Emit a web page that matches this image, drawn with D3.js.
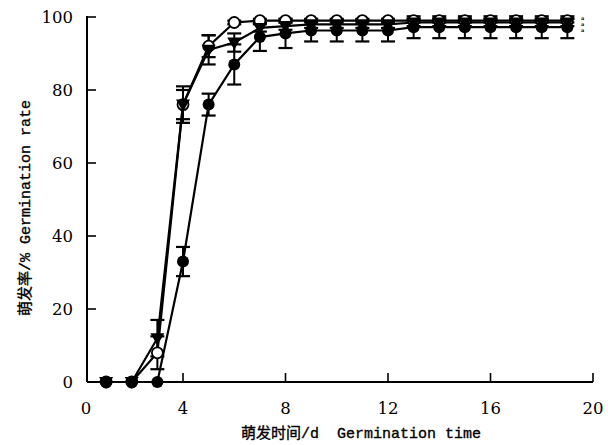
<!DOCTYPE html>
<html><head><meta charset="utf-8">
<script src="https://cdn.jsdelivr.net/npm/d3@7"></script>
<style>body{margin:0;background:#fff}svg{display:block}</style>
</head><body>
<svg id="c" width="608" height="445"></svg>
<script>
const days = [1,2,3,4,5,6,7,8,9,10,11,12,13,14,15,16,17,18,19];
const openVals = [0,0,8,76,92,98.5,99,99,99,99,99,99,99,99,99,99,99,99,99];
const openErr  = [0,0,4.5,4,3,0.5,0.5,0.5,0.5,0.5,0.5,0.5,0.5,0.5,0.5,0.5,0.5,0.5,0.5];
const triVals  = [0,0,12,76,91,93,97,97.5,98,98,98,98,98.5,98.5,98.5,98.5,98.5,98.5,98.5];
const triErr   = [0,0,5,5,4,2.5,1,1,1,1,1,1,1,1,1,1,1,1,1];
const fillVals = [0,0,0,33,76,87,94.5,95.5,96.3,96.3,96.3,96.3,97.2,97.2,97.2,97.2,97.2,97.2,97.2];
const fillErr  = [0,0,0,4,3,5.5,3.8,4,3,3,3,3,3,3,3,3,3,3,3];
const xTicks = [4,8,12,16,20];
const yTicks = [0,20,40,60,80,100];
const sigLabels = ["a","a","a"];

const svg = d3.select("#c");
const x = d3.scaleLinear().domain([0,20]).range([80.5,593]);
const y = d3.scaleLinear().domain([0,100]).range([382,17]);
const axisX0 = 87;

const serif = "'DejaVu Serif', serif";
const mono = "'Liberation Mono', 'Noto Sans CJK SC', monospace";

// axes
const g = svg.append("g");
g.append("line").attr("x1",axisX0).attr("x2",x(20)).attr("y1",y(0)).attr("y2",y(0)).attr("stroke","#000").attr("stroke-width",2);
g.append("line").attr("x1",axisX0).attr("x2",axisX0).attr("y1",y(0)).attr("y2",y(100)-1).attr("stroke","#000").attr("stroke-width",2);
xTicks.forEach(t=>{
  g.append("line").attr("x1",x(t)).attr("x2",x(t)).attr("y1",y(0)).attr("y2",y(0)-9).attr("stroke","#000").attr("stroke-width",1.6);
  g.append("text").attr("x",x(t)).attr("y",414).attr("text-anchor","middle").attr("font-family",serif).attr("font-size",16.5).text(t);
});
g.append("text").attr("x",axisX0-1).attr("y",414).attr("text-anchor","middle").attr("font-family",serif).attr("font-size",16.5).text("0");
yTicks.forEach(t=>{
  g.append("line").attr("x1",axisX0).attr("x2",axisX0+9).attr("y1",y(t)).attr("y2",y(t)).attr("stroke","#000").attr("stroke-width",1.6);
  g.append("text").attr("x",73).attr("y",y(t)+6).attr("text-anchor","end").attr("font-family",serif).attr("font-size",16.5).text(t);
});

// titles
svg.append("text").attr("x",361).attr("y",438).attr("text-anchor","middle").attr("font-family",mono).attr("font-size",15)
  .attr("stroke","#000").attr("stroke-width",0.35)
  .style("white-space","pre").text("萌发时间/d  Germination time");
svg.append("text").attr("transform","translate(30,208) rotate(-90)").attr("text-anchor","middle").attr("font-family",mono).attr("font-size",15)
  .attr("stroke","#000").attr("stroke-width",0.35)
  .style("white-space","pre").text("萌发率/% Germination rate");

const series = [
  {vals: openVals, err: openErr, type:"open"},
  {vals: triVals, err: triErr, type:"tri"},
  {vals: fillVals, err: fillErr, type:"fill"}
];
const line = d3.line().x(d=>x(d[0])).y(d=>y(d[1]));

// lines
series.forEach(s=>{
  svg.append("path").datum(days.map((d,i)=>[d,s.vals[i]])).attr("d",line)
    .attr("fill","none").attr("stroke","#000").attr("stroke-width",2.2);
});
// error bars
series.forEach(s=>{
  days.forEach((d,i)=>{
    const e = s.err[i]; if(!e) return;
    const cx = x(d), y1 = y(s.vals[i]+e), y2 = y(s.vals[i]-e);
    svg.append("line").attr("x1",cx).attr("x2",cx).attr("y1",y1).attr("y2",y2).attr("stroke","#000").attr("stroke-width",2);
    [y1,y2].forEach(yy=>svg.append("line").attr("x1",cx-7).attr("x2",cx+7).attr("y1",yy).attr("y2",yy).attr("stroke","#000").attr("stroke-width",2.2));
  });
});
// markers
series.forEach(s=>{
  days.forEach((d,i)=>{
    const cx = x(d), cy = y(s.vals[i]);
    if(s.type==="open"){
      svg.append("circle").attr("cx",cx).attr("cy",cy).attr("r",5.5).attr("fill","#fff").attr("stroke","#000").attr("stroke-width",1.8);
    } else if(s.type==="fill"){
      svg.append("circle").attr("cx",cx).attr("cy",cy).attr("r",6).attr("fill","#000");
    } else {
      svg.append("path").attr("d",d3.symbol(d3.symbolTriangle,85)()).attr("transform",`translate(${cx},${cy-1}) rotate(180)`).attr("fill","#000");
    }
  });
});
// significance letters
sigLabels.forEach((l,i)=>{
  svg.append("text").attr("x",581).attr("y",20+i*6).attr("font-family",serif).attr("font-size",5).attr("font-weight","bold").text(l);
});
</script>
</body></html>
